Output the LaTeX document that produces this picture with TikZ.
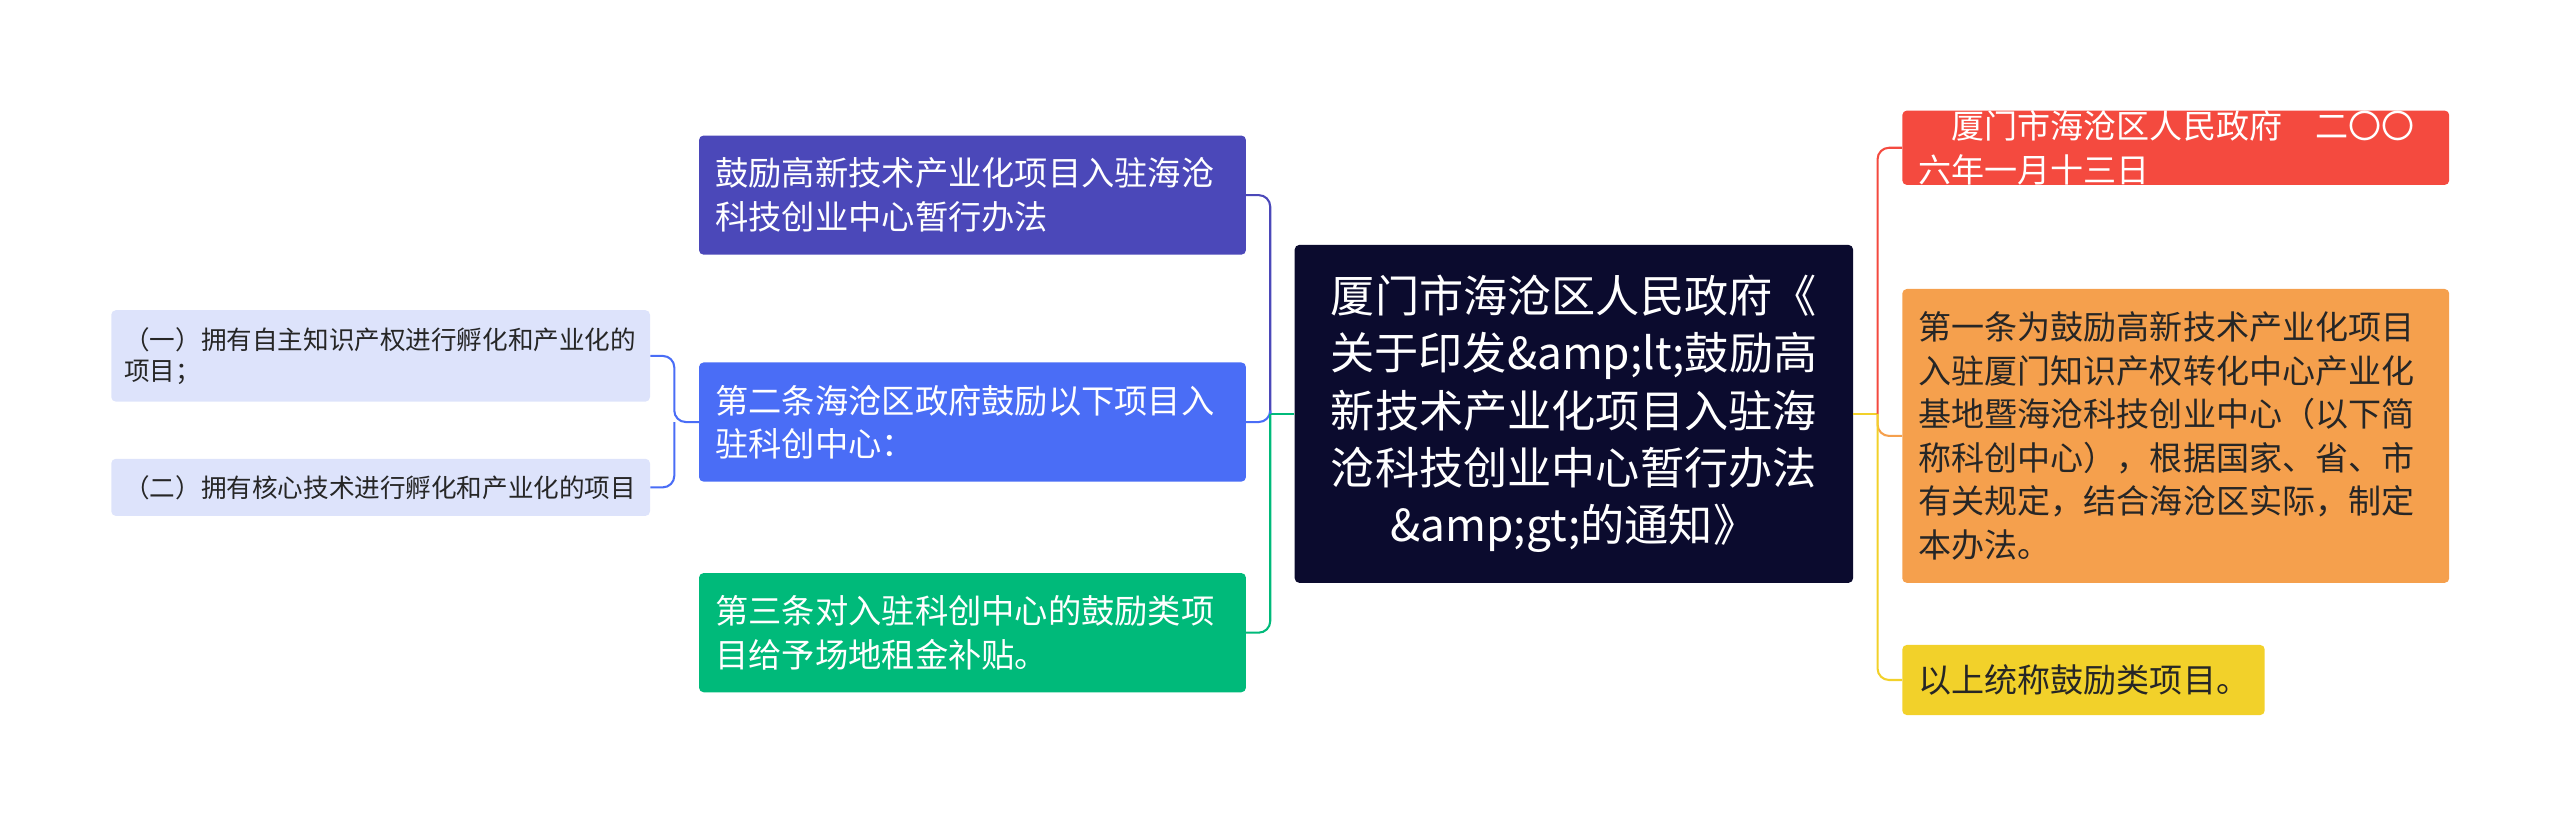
\documentclass[tikz,border=0pt]{standalone}
\usepackage{fontspec}
\setmainfont{Noto Sans CJK SC}
\begin{document}
\begin{tikzpicture}[x=0.05cm,y=-0.05cm,
 box/.style={rounded corners=4pt,inner ysep=0pt,inner xsep=0.5cm,text=white,align=left,anchor=west},
 con/.style={line width=1.8pt,rounded corners=10pt}]
\useasboundingbox (0,0) rectangle (1568,507);
\definecolor{cdark}{HTML}{0B0B2E}\definecolor{cpur}{HTML}{4B48B9}\definecolor{cblue}{HTML}{4A6DF6}
\definecolor{cgreen}{HTML}{00BA7A}\definecolor{clav}{HTML}{DDE3FB}\definecolor{cred}{HTML}{F44A3F}
\definecolor{corg}{HTML}{F5A04D}\definecolor{cyel}{HTML}{F2D12A}
\node[box,fill=cdark,text width=322*0.05cm,minimum height=207*0.05cm,align=center,anchor=center,font=\fontsize{38.5}{49.8}\selectfont] (c) at (964,253.5)
 {厦门市海沧区人民政府《\\关于印发\&amp;lt;鼓励高\\新技术产业化项目入驻海\\沧科技创业中心暂行办法\\\&amp;gt;的通知》};
\tikzset{lb/.style={box,text width=315*0.05cm,minimum height=73*0.05cm,font=\fontsize{29}{38}\selectfont}}
\node[lb,fill=cpur] (l1) at (428,119.5) {鼓励高新技术产业化项目入驻海沧\\科技创业中心暂行办法};
\node[lb,fill=cblue] (l2) at (428,258.5) {第二条海沧区政府鼓励以下项目入\\驻科创中心：};
\node[lb,fill=cgreen] (l3) at (428,387.5) {第三条对入驻科创中心的鼓励类项\\目给予场地租金补贴。};
\tikzset{fl/.style={box,fill=clav,text=black!85,text width=314*0.05cm,inner xsep=0.4cm,font=\fontsize{22.3}{27}\selectfont}}
\node[fl,minimum height=56*0.05cm] (f1) at (68,218) {（一）拥有自主知识产权进行孵化和产业化的\\项目；};
\node[fl,minimum height=35*0.05cm] (f2) at (68,298.5) {（二）拥有核心技术进行孵化和产业化的项目};
\tikzset{rb/.style={box,font=\fontsize{28.8}{38}\selectfont,inner xsep=0.5cm}}
\node[rb,fill=cred,text width=315*0.05cm,minimum height=45*0.05cm] (r1) at (1165,90.5) {\hspace*{1em}厦门市海沧区人民政府\hspace{1em}二〇〇\\六年一月十三日};
\node[rb,fill=corg,text=black!85,text width=315*0.05cm,minimum height=180*0.05cm] (r2) at (1165,267) {第一条为鼓励高新技术产业化项目\\入驻厦门知识产权转化中心产业化\\基地暨海沧科技创业中心（以下简\\称科创中心），根据国家、省、市\\有关规定，结合海沧区实际，制定\\本办法。};
\node[rb,fill=cyel,text=black!85,text width=202*0.05cm,minimum height=43*0.05cm] (r3) at (1165,416.5) {以上统称鼓励类项目。};
\draw[con,cgreen] (c.west) -- (778,253.5);
\draw[con,cpur] (778,253.5) |- (l1.east);
\draw[con,cblue] (778,253.5) |- (l2.east);
\draw[con,cgreen] (778,253.5) |- (l3.east);
\draw[con,cblue] (l2.west) -- (413,258.5) |- (f1.east);
\draw[con,cblue] (413,258.5) |- (f2.east);
\draw[con,cyel] (c.east) -- (1150,253.5);
\draw[con,cred] (1150,253.5) |- (r1.west);
\draw[con,corg] (1150,253.5) |- (r2.west);
\draw[con,cyel] (1150,253.5) |- (r3.west);
\end{tikzpicture}
\end{document}
